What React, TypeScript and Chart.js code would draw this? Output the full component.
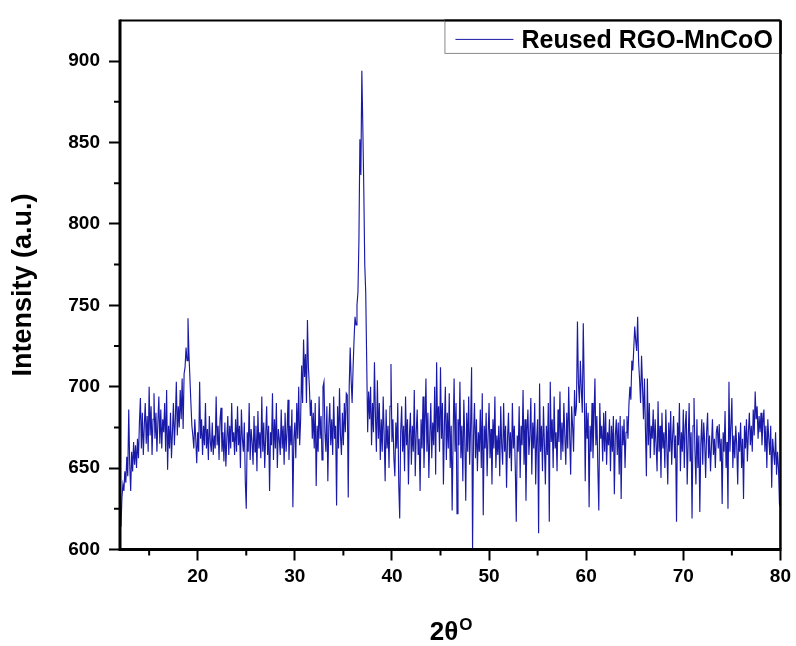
import React, { useEffect, useRef } from 'react';
import { Chart, registerables } from 'chart.js';

Chart.register(...registerables);

// 2θ sampling grid of the recorded pattern
const TWO_THETA_START = 12;
const TWO_THETA_STEP = 0.1;

// Intensity (a.u.), one row per degree (12.0 … 79.9), then 80.0
const INTENSITY: number[] = [
  625, 614, 632, 640, 636, 648, 641, 657, 645, 686,
  652, 636, 660, 648, 666, 652, 664, 650, 668, 656,
  678, 693, 662, 684, 658, 676, 690, 665, 682, 660,
  700, 670, 688, 658, 680, 696, 668, 684, 660, 678,
  694, 665, 686, 662, 680, 672, 690, 660, 698, 649,
  676, 662, 684, 656, 672, 690, 664, 680, 703, 670,
  688, 675, 698, 680, 705, 674, 708, 712, 724, 716,
  742, 720, 705, 690, 676, 670, 662, 680, 668, 653,
  672, 660, 703, 668, 680, 658, 676, 664, 690, 662,
  674, 655, 682, 666, 660, 678, 658, 670, 662, 694,
  664, 676, 655, 680, 687, 660, 672, 654, 678, 651,
  668, 682, 658, 676, 662, 690, 666, 672, 658, 680,
  660, 688, 664, 676, 650, 686, 668, 660, 678, 642,
  625, 672, 660, 690, 655, 674, 666, 652, 682, 660,
  676, 648, 685, 662, 672, 656, 694, 660, 678, 650,
  670, 688, 658, 676, 636, 672, 664, 696, 655, 680,
  662, 690, 650, 674, 668, 658, 686, 662, 676, 652,
  684, 660, 672, 692, 655, 676, 664, 686, 626, 668,
  678, 656, 690, 668, 700, 664, 680, 713, 690, 729,
  706, 720, 690, 741, 712, 700, 682, 692, 668, 684,
  662, 690, 639, 676, 660, 694, 668, 682, 655, 700,
  703, 672, 660, 688, 642, 676, 690, 664, 680, 658,
  694, 668, 676, 627, 688, 662, 699, 670, 658, 684,
  664, 690, 672, 696, 695, 632, 700, 724, 704, 690,
  712, 729, 743, 738, 750, 758, 790, 852, 830, 894,
  860, 822, 775, 758, 716, 672, 697, 680, 700, 664,
  690, 672, 715, 682, 660, 704, 668, 690, 655, 680,
  660, 694, 670, 642, 686, 662, 676, 650, 688, 714,
  666, 680, 656, 645, 678, 662, 690, 640, 619, 672,
  688, 660, 676, 648, 694, 664, 680, 640, 670, 684,
  652, 676, 660, 698, 645, 672, 686, 658, 668, 636,
  680, 662, 694, 650, 676, 705, 660, 684, 644, 670,
  690, 656, 678, 664, 700, 646, 715, 672, 688, 660,
  712, 668, 690, 640, 676, 700, 655, 684, 662, 696,
  650, 676, 624, 670, 705, 660, 690, 622, 680, 664,
  703, 656, 676, 642, 692, 668, 630, 684, 660, 694,
  652, 676, 712, 600, 670, 690, 656, 680, 648, 672,
  660, 686, 650, 696, 621, 676, 662, 684, 645, 670,
  690, 656, 674, 640, 680, 662, 694, 650, 670, 658,
  676, 645, 688, 664, 652, 690, 660, 676, 638, 668,
  684, 656, 672, 648, 690, 662, 676, 650, 617, 670,
  660, 688, 644, 676, 664, 698, 652, 680, 630, 672,
  686, 658, 670, 693, 646, 678, 662, 690, 640, 668,
  680, 610, 702, 660, 676, 648, 688, 664, 640, 676,
  658, 690, 617, 703, 666, 680, 650, 694, 662, 672,
  648, 686, 666, 697, 655, 678, 660, 690, 670, 652,
  684, 662, 700, 670, 646, 688, 676, 660, 698, 682,
  688, 740, 702, 690, 716, 698, 684, 739, 700, 642,
  690, 668, 684, 626, 676, 660, 690, 656, 680, 705,
  664, 682, 650, 624, 690, 668, 676, 654, 684, 660,
  685, 652, 672, 664, 680, 648, 676, 660, 682, 634,
  670, 680, 658, 678, 646, 682, 631, 676, 664, 680,
  650, 672, 682, 668, 689, 700, 692, 716, 710, 724,
  737, 728, 722, 743, 715, 704, 690, 719, 700, 680,
  705, 674, 645, 705, 664, 690, 656, 676, 668, 686,
  658, 680, 664, 648, 691, 660, 676, 644, 684, 662,
  672, 650, 686, 664, 640, 678, 660, 685, 652, 670,
  682, 656, 670, 617, 678, 664, 690, 648, 672, 660,
  686, 650, 676, 685, 640, 666, 690, 654, 672, 619,
  676, 693, 660, 640, 680, 650, 670, 623, 664, 680,
  652, 678, 666, 644, 672, 684, 656, 670, 648, 664,
  680, 658, 668, 650, 672, 676, 662, 677, 654, 668,
  628, 672, 660, 685, 650, 666, 625, 703, 660, 676,
  693, 650, 670, 656, 676, 664, 640, 672, 660, 678,
  650, 668, 631, 676, 662, 680, 654, 672, 684, 664,
  676, 660, 686, 670, 697, 680, 688, 668, 682, 672,
  684, 664, 678, 686, 660, 676, 650, 680, 668, 658,
  676, 638, 668, 660, 652, 672, 646, 660, 650, 628,
  626,
];

const X_MIN = 12;
const X_MAX = 80;
const Y_MIN = 600;
const Y_MAX = 925;
const X_TICKS = [20, 30, 40, 50, 60, 70, 80];
const X_MINOR_TICKS = [15, 25, 35, 45, 55, 65, 75];
const Y_TICKS = [600, 650, 700, 750, 800, 850, 900];
const Y_MINOR_TICKS = [625, 675, 725, 775, 825, 875];

const SERIES_LABEL = 'Reused RGO-MnCoO';
const X_TITLE = '2θ';
const X_TITLE_SUP = 'O';
const Y_TITLE = 'Intensity (a.u.)';

const LINE_COLOR = '#1a1aa8';
const FONT = '"Liberation Sans", Arial, Helvetica, sans-serif';

const framePlugin = {
  id: 'frameAndExtras',
  afterDatasetsDraw(chart: any) {
    const { ctx, chartArea, scales } = chart;
    const { left, right, top, bottom } = chartArea;
    ctx.save();
    ctx.strokeStyle = '#000';
    // frame
    ctx.lineWidth = 2;
    ctx.beginPath();
    ctx.moveTo(left, top);
    ctx.lineTo(right, top);
    ctx.stroke();
    ctx.lineWidth = 2.5;
    ctx.beginPath();
    ctx.moveTo(right, top);
    ctx.lineTo(right, bottom);
    ctx.stroke();
    ctx.lineWidth = 3;
    ctx.beginPath();
    ctx.moveTo(left, top - 1);
    ctx.lineTo(left, bottom);
    ctx.lineTo(right + 1, bottom);
    ctx.stroke();
    // minor ticks
    ctx.lineWidth = 2;
    ctx.beginPath();
    X_MINOR_TICKS.forEach((v) => {
      const px = scales.x.getPixelForValue(v);
      ctx.moveTo(px, bottom);
      ctx.lineTo(px, bottom + 6);
    });
    Y_MINOR_TICKS.forEach((v) => {
      const py = scales.y.getPixelForValue(v);
      ctx.moveTo(left - 6, py);
      ctx.lineTo(left, py);
    });
    ctx.stroke();
    ctx.restore();
  },
  afterDraw(chart: any) {
    const { ctx, chartArea } = chart;
    const { left, right, top, bottom } = chartArea;
    ctx.save();
    // legend box
    const lw = 336;
    const lh = 33.5;
    const lx = right - lw;
    const ly = top;
    ctx.fillStyle = '#fff';
    ctx.fillRect(lx, ly, lw, lh);
    ctx.strokeStyle = '#8a8a8a';
    ctx.lineWidth = 1;
    ctx.strokeRect(lx + 0.5, ly + 0.5, lw - 1, lh - 1);
    ctx.strokeStyle = '#000';
    ctx.lineWidth = 2.5;
    ctx.beginPath();
    ctx.moveTo(right, top);
    ctx.lineTo(right, top + lh);
    ctx.stroke();
    ctx.lineWidth = 2;
    ctx.beginPath();
    ctx.moveTo(lx, top);
    ctx.lineTo(right, top);
    ctx.stroke();
    const ds = chart.data.datasets[0];
    ctx.strokeStyle = ds.borderColor;
    ctx.lineWidth = 1;
    ctx.beginPath();
    ctx.moveTo(lx + 11, ly + 19);
    ctx.lineTo(lx + 69, ly + 19);
    ctx.stroke();
    ctx.fillStyle = '#000';
    ctx.font = `bold 25px ${FONT}`;
    ctx.textBaseline = 'alphabetic';
    ctx.textAlign = 'left';
    ctx.fillText(ds.label, lx + 77, ly + 27.5);
    // x-axis title with superscript
    const cx = (left + right) / 2;
    ctx.font = `bold 26px ${FONT}`;
    const w1 = ctx.measureText(X_TITLE).width;
    ctx.font = `bold 17px ${FONT}`;
    const w2 = ctx.measureText(X_TITLE_SUP).width;
    const sx = cx - (w1 + w2 + 1) / 2 + 1;
    const base = bottom + 90.5;
    ctx.font = `bold 26px ${FONT}`;
    ctx.fillText(X_TITLE, sx, base);
    ctx.font = `bold 17px ${FONT}`;
    ctx.fillText(X_TITLE_SUP, sx + w1 + 1, base - 10);
    ctx.restore();
  },
};

export default function App() {
  const canvasRef = useRef<HTMLCanvasElement | null>(null);

  useEffect(() => {
    const canvas = canvasRef.current;
    if (!canvas) return;
    const points = INTENSITY.map((y, i) => ({
      x: Math.round((TWO_THETA_START + i * TWO_THETA_STEP) * 10) / 10,
      y,
    }));
    const tickFont = { family: FONT, size: 19, weight: 'bold' as const };
    const chart = new Chart(canvas, {
      type: 'line',
      data: {
        datasets: [
          {
            label: SERIES_LABEL,
            data: points,
            borderColor: LINE_COLOR,
            borderWidth: 1.15,
            pointRadius: 0,
            tension: 0,
            fill: false,
          },
        ],
      },
      options: {
        animation: false,
        responsive: false,
        maintainAspectRatio: false,
        layout: { padding: { left: 0, right: 14, top: 14, bottom: 0 } },
        plugins: { legend: { display: false }, tooltip: { enabled: false } },
        scales: {
          x: {
            type: 'linear',
            min: X_MIN,
            max: X_MAX,
            afterBuildTicks: (s: any) => {
              s.ticks = X_TICKS.map((value) => ({ value }));
            },
            afterFit: (s: any) => {
              s.height = 96.5;
            },
            border: { display: false },
            grid: {
              display: true,
              drawOnChartArea: false,
              drawTicks: true,
              tickLength: 11,
              tickWidth: 2,
              tickColor: '#000',
              color: '#000',
            },
            ticks: {
              color: '#000',
              font: tickFont,
              padding: 5,
              maxRotation: 0,
              autoSkip: false,
            },
          },
          y: {
            type: 'linear',
            min: Y_MIN,
            max: Y_MAX,
            afterBuildTicks: (s: any) => {
              s.ticks = Y_TICKS.map((value) => ({ value }));
            },
            afterFit: (s: any) => {
              s.width = 120;
            },
            border: { display: false },
            grid: {
              display: true,
              drawOnChartArea: false,
              drawTicks: true,
              tickLength: 11,
              tickWidth: 2,
              tickColor: '#000',
              color: '#000',
            },
            ticks: {
              color: '#000',
              font: tickFont,
              padding: 9,
              autoSkip: false,
            },
            title: {
              display: true,
              text: Y_TITLE,
              color: '#000',
              font: { family: FONT, size: 27, weight: 'bold' },
              padding: { top: 7, bottom: 0 },
            },
          },
        },
      },
      plugins: [framePlugin],
    });
    return () => chart.destroy();
  }, []);

  return (
    <div
      style={{
        position: 'absolute',
        left: 0,
        top: 0,
        width: 796,
        height: 646,
        background: '#fff',
      }}
    >
      <canvas ref={canvasRef} width={796} height={646} style={{ width: 796, height: 646, display: 'block' }} />
    </div>
  );
}
